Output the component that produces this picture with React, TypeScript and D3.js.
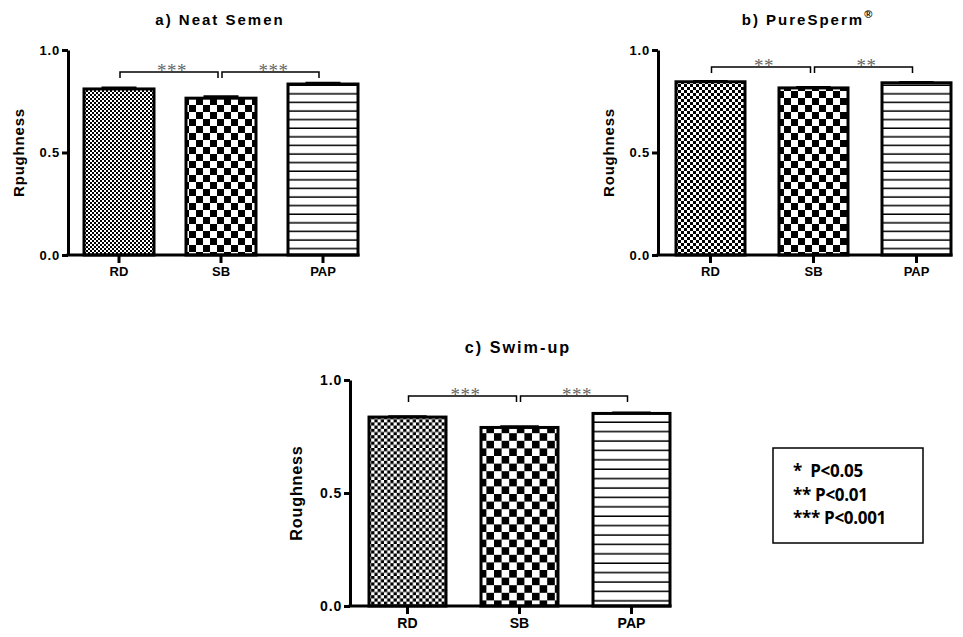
import React, { useEffect, useRef } from 'react';
import * as d3 from 'd3';

const categories = ['RD', 'SB', 'PAP'];

const neatValues = [0.81, 0.765, 0.834];
const neatErrors = [0.006, 0.008, 0.005];
const neatStars = ['***', '***'];

const pureValues = [0.845, 0.815, 0.84];
const pureErrors = [0.003, 0.003, 0.003];
const pureStars = ['**', '**'];

const swimValues = [0.836, 0.79, 0.852];
const swimErrors = [0.003, 0.004, 0.003];
const swimStars = ['***', '***'];

const yTicks = [0, 0.5, 1.0];
const legendLines = ['*  P<0.05', '** P<0.01', '*** P<0.001'];

const panels = [
  {
    id: 'a', title: 'a) Neat Semen', sup: '', ylabel: 'Rpughness',
    values: neatValues, errors: neatErrors, stars: neatStars, bracket: 0.893,
    left: 68, top: 50, bottom: 255, step: 102, barW: 70, offset: 16,
    titleX: 220, titleY: 25, labelX: 24, fs: 1, rdCell: 2, sbCell: 7, lineGap: 8.6,
  },
  {
    id: 'b', title: 'b) PureSperm', sup: '®', ylabel: 'Roughness',
    values: pureValues, errors: pureErrors, stars: pureStars, bracket: 0.917,
    left: 658, top: 50, bottom: 255, step: 103, barW: 69, offset: 18,
    titleX: 808, titleY: 25, labelX: 614, fs: 1, rdCell: 3, sbCell: 7, lineGap: 8.6,
  },
  {
    id: 'c', title: 'c) Swim-up', sup: '', ylabel: 'Roughness',
    values: swimValues, errors: swimErrors, stars: swimStars, bracket: 0.929,
    left: 350, top: 380, bottom: 606, step: 112, barW: 77, offset: 19,
    titleX: 518, titleY: 353, labelX: 302, fs: 1.08, rdCell: 3.2, sbCell: 7.6, lineGap: 9.4,
  },
];

const FONT = '"Liberation Sans", Arial, sans-serif';

function drawPanel(svg, defs, p) {
  // fill patterns
  const rd = defs.append('pattern').attr('id', `rd-${p.id}`)
    .attr('patternUnits', 'userSpaceOnUse')
    .attr('width', p.rdCell * 2).attr('height', p.rdCell * 2);
  rd.append('rect').attr('width', p.rdCell * 2).attr('height', p.rdCell * 2).attr('fill', '#fff');
  rd.append('rect').attr('width', p.rdCell).attr('height', p.rdCell).attr('fill', '#000');
  rd.append('rect').attr('x', p.rdCell).attr('y', p.rdCell)
    .attr('width', p.rdCell).attr('height', p.rdCell).attr('fill', '#000');

  const sb = defs.append('pattern').attr('id', `sb-${p.id}`)
    .attr('patternUnits', 'userSpaceOnUse')
    .attr('width', p.sbCell * 2).attr('height', p.sbCell * 2);
  sb.append('rect').attr('width', p.sbCell * 2).attr('height', p.sbCell * 2).attr('fill', '#fff');
  sb.append('rect').attr('width', p.sbCell).attr('height', p.sbCell).attr('fill', '#000');
  sb.append('rect').attr('x', p.sbCell).attr('y', p.sbCell)
    .attr('width', p.sbCell).attr('height', p.sbCell).attr('fill', '#000');

  const pap = defs.append('pattern').attr('id', `pap-${p.id}`)
    .attr('patternUnits', 'userSpaceOnUse')
    .attr('width', 10).attr('height', p.lineGap);
  pap.append('rect').attr('width', 10).attr('height', p.lineGap).attr('fill', '#fff');
  pap.append('rect').attr('y', p.lineGap - 1.5).attr('width', 10).attr('height', 1.5).attr('fill', '#000');

  const fills = [`rd-${p.id}`, `sb-${p.id}`, `pap-${p.id}`];

  const y = d3.scaleLinear().domain([0, 1]).range([p.bottom, p.top]);
  const pi = (p.step - p.barW) / p.step;
  const po = p.offset / p.step;
  const x = d3.scaleBand()
    .domain(categories)
    .range([p.left, p.left + p.step * (categories.length - pi + 2 * po)])
    .paddingInner(pi)
    .paddingOuter(po);
  const cx = (c) => x(c) + x.bandwidth() / 2;

  const g = svg.append('g');

  g.selectAll('rect.bar')
    .data(p.values)
    .enter()
    .append('rect')
    .attr('x', (d, i) => x(categories[i]))
    .attr('y', (d) => y(d))
    .attr('width', x.bandwidth())
    .attr('height', (d) => p.bottom - y(d))
    .attr('fill', (d, i) => `url(#${fills[i]})`)
    .attr('stroke', '#000')
    .attr('stroke-width', 3);

  // error bars (SEM, upper half)
  p.values.forEach((v, i) => {
    const c = cx(categories[i]);
    const e = y(v + p.errors[i]);
    g.append('line').attr('x1', c).attr('x2', c).attr('y1', y(v)).attr('y2', e)
      .attr('stroke', '#000').attr('stroke-width', 2.5);
    g.append('line').attr('x1', c - x.bandwidth() / 4).attr('x2', c + x.bandwidth() / 4)
      .attr('y1', e).attr('y2', e).attr('stroke', '#000').attr('stroke-width', 2.5);
  });

  // y axis
  const yAxis = g.append('g')
    .attr('transform', `translate(${p.left},0)`)
    .call(d3.axisLeft(y).tickValues(yTicks).tickFormat(d3.format('.1f')).tickSize(6).tickSizeOuter(0).tickPadding(2));
  yAxis.select('.domain').attr('stroke-width', 3);
  yAxis.selectAll('.tick line').attr('stroke-width', 3);
  yAxis.selectAll('.tick text')
    .attr('font-family', FONT).attr('font-weight', 'bold')
    .attr('font-size', 13 * p.fs).attr('letter-spacing', 0.8).attr('fill', '#000');

  // x axis
  const xAxis = g.append('g')
    .attr('transform', `translate(0,${p.bottom})`)
    .call(d3.axisBottom(x).tickSize(8).tickSizeOuter(0).tickPadding(4));
  xAxis.select('.domain').remove();
  xAxis.selectAll('.tick line').attr('stroke-width', 3);
  xAxis.selectAll('.tick text')
    .attr('font-family', FONT).attr('font-weight', 'bold')
    .attr('font-size', 13 * p.fs).attr('fill', '#000');
  const lastBar = x(categories[categories.length - 1]) + x.bandwidth();
  g.append('line').attr('x1', p.left - 1.5).attr('x2', lastBar + 1.5)
    .attr('y1', p.bottom).attr('y2', p.bottom)
    .attr('stroke', '#000').attr('stroke-width', 3);

  // significance brackets
  const by = y(p.bracket);
  const spans = [
    [cx(categories[0]) + 1, cx(categories[1]) - 3],
    [cx(categories[1]) + 1, cx(categories[2]) - 4],
  ];
  spans.forEach(([a, b], i) => {
    g.append('path')
      .attr('d', `M${a},${by + 6}V${by}H${b}V${by + 6}`)
      .attr('fill', 'none').attr('stroke', '#000').attr('stroke-width', 1.5);
    g.append('text')
      .attr('x', (a + b) / 2 + 3).attr('y', by + 5)
      .attr('text-anchor', 'middle')
      .attr('font-family', '"Liberation Serif", serif')
      .attr('font-size', 19).attr('letter-spacing', 0.5)
      .attr('fill', '#666')
      .text(p.stars[i]);
  });

  // title
  const t = g.append('text')
    .attr('x', p.titleX).attr('y', p.titleY)
    .attr('text-anchor', 'middle')
    .attr('font-family', FONT).attr('font-weight', 'bold')
    .attr('font-size', 15 * p.fs).attr('letter-spacing', 2)
    .attr('fill', '#000')
    .text(p.title);
  if (p.sup) {
    t.append('tspan').attr('dy', -7).attr('font-size', 11).text(p.sup);
  }

  // y label
  g.append('text')
    .attr('transform', `translate(${p.labelX},${(p.top + p.bottom) / 2}) rotate(-90)`)
    .attr('text-anchor', 'middle')
    .attr('font-family', FONT).attr('font-weight', 'bold')
    .attr('font-size', 15 * p.fs).attr('letter-spacing', 0.8)
    .attr('fill', '#000')
    .text(p.ylabel);
}

const App = () => {
  const ref = useRef(null);

  useEffect(() => {
    const svg = d3.select(ref.current);
    svg.selectAll('*').remove();
    const defs = svg.append('defs');
    panels.forEach((p) => drawPanel(svg, defs, p));

    // legend box
    const lg = svg.append('g');
    lg.append('rect').attr('x', 773).attr('y', 448).attr('width', 150).attr('height', 95)
      .attr('fill', '#fff').attr('stroke', '#000').attr('stroke-width', 1.5);
    lg.selectAll('text.leg')
      .data(legendLines)
      .enter()
      .append('text')
      .attr('x', 793)
      .attr('y', (d, i) => 477 + i * 23.5)
      .attr('font-family', '"Open Sans", sans-serif')
      .attr('font-weight', 'bold')
      .attr('font-size', 17)
      .attr('letter-spacing', -0.3)
      .attr('fill', '#000')
      .style('white-space', 'pre')
      .text((d) => d);

    return () => { svg.selectAll('*').remove(); };
  }, []);

  return (
    <svg
      ref={ref}
      width={963}
      height={637}
      style={{ position: 'absolute', left: 0, top: 0, background: '#fff' }}
    />
  );
};

export default App;
